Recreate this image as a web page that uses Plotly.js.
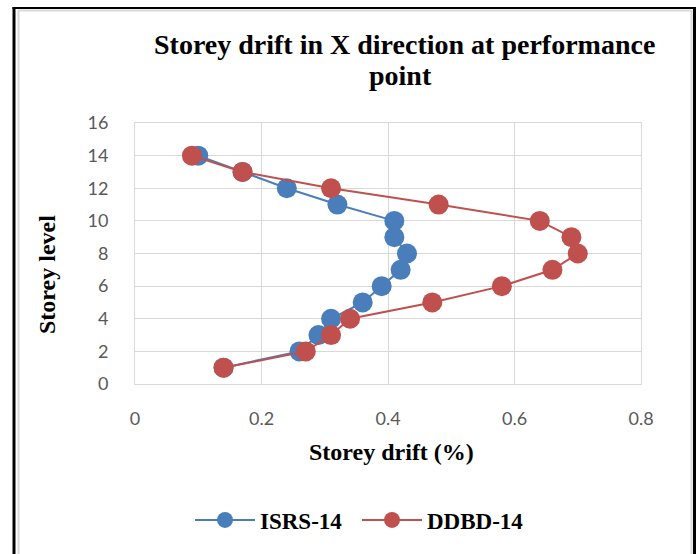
<!DOCTYPE html>
<html>
<head>
<meta charset="utf-8">
<script src="https://cdn.plot.ly/plotly-3.0.1.min.js"></script>
<style>html,body{margin:0;padding:0;background:#fff;}#chart{width:696px;height:554px;}</style>
</head>
<body>
<div id="chart"></div>
<script>
const storeyLevels = [14, 13, 12, 11, 10, 9, 8, 7, 6, 5, 4, 3, 2, 1];
const isrsDrift = [0.10, 0.17, 0.24, 0.32, 0.41, 0.41, 0.43, 0.42, 0.39, 0.36, 0.31, 0.29, 0.26, 0.14];
const ddbdDrift = [0.09, 0.17, 0.31, 0.48, 0.64, 0.69, 0.70, 0.66, 0.58, 0.47, 0.34, 0.31, 0.27, 0.14];
const seriesNames = ['ISRS-14', 'DDBD-14'];
const xTicks = [0, 0.2, 0.4, 0.6, 0.8];
const xTickText = ['0', '0.2', '0.4', '0.6', '0.8'];
const yTicks = [0, 2, 4, 6, 8, 10, 12, 14, 16];
const titleLines = ['Storey drift in X direction at performance', 'point'];
const xTitle = 'Storey drift (%)';
const yTitle = 'Storey level';

const blue = '#4A7EBB';
const red = '#C0504D';

const traces = [
  {x: isrsDrift, y: storeyLevels, name: seriesNames[0], type: 'scatter', mode: 'lines+markers',
   line: {color: blue, width: 2}, marker: {color: blue, size: 20, line: {width: 0}}},
  {x: ddbdDrift, y: storeyLevels, name: seriesNames[1], type: 'scatter', mode: 'lines+markers',
   line: {color: red, width: 2}, marker: {color: red, size: 20, line: {width: 0}}}
];

// pixel helpers for frame/text placement (plot area: x 135..641, y 123..384)
const L = 135, R = 641, T = 123, B = 384;
const px = v => (v - L) / (R - L);
const py = v => (B - v) / (B - T);
const serif = 'Liberation Serif, serif';

const layout = {
  width: 696, height: 554,
  margin: {l: L, r: 696 - R, t: T, b: 554 - B},
  paper_bgcolor: '#fff', plot_bgcolor: '#fff',
  showlegend: true,
  legend: {orientation: 'h', x: px(190), xanchor: 'left', y: py(520), yanchor: 'middle',
    font: {family: serif, size: 23, color: '#000', weight: 'bold'},
    itemwidth: 60, tracegroupgap: 0, entrywidth: 92, entrywidthmode: 'pixels'},
  xaxis: {range: [0, 0.8], tickvals: xTicks, ticktext: xTickText, showgrid: true, gridcolor: '#d9d9d9', gridwidth: 1,
    zeroline: false, showline: true, linecolor: '#d9d9d9', mirror: true, ticks: '',
    tickfont: {family: 'Lato, Noto Sans, sans-serif', size: 18, color: '#595959'},
    ticklabelstandoff: 18},
  yaxis: {range: [0, 16], tickvals: yTicks, showgrid: true, gridcolor: '#d9d9d9', gridwidth: 1,
    zeroline: false, showline: true, linecolor: '#d9d9d9', mirror: true, ticks: '',
    tickfont: {family: 'Lato, Noto Sans, sans-serif', size: 18, color: '#595959'},
    ticklabelstandoff: 22},
  annotations: [
    {text: '<b>' + titleLines[0] + '</b>', xref: 'paper', yref: 'paper', x: px(404), y: py(45),
     xanchor: 'center', yanchor: 'middle', showarrow: false, font: {family: serif, size: 28, color: '#000'}},
    {text: '<b>' + titleLines[1] + '</b>', xref: 'paper', yref: 'paper', x: px(400), y: py(75),
     xanchor: 'center', yanchor: 'middle', showarrow: false, font: {family: serif, size: 28, color: '#000'}},
    {text: '<b>' + xTitle + '</b>', xref: 'paper', yref: 'paper', x: px(391), y: py(452),
     xanchor: 'center', yanchor: 'middle', showarrow: false, font: {family: serif, size: 24, color: '#000'}},
    {text: '<b>' + yTitle + '</b>', xref: 'paper', yref: 'paper', x: px(47), y: py(275), textangle: -90,
     xanchor: 'center', yanchor: 'middle', showarrow: false, font: {family: serif, size: 24, color: '#000'}}
  ],
  shapes: [
    {type: 'rect', xref: 'paper', yref: 'paper', x0: px(18.5), x1: px(691.5), y0: py(570), y1: py(10.5),
     line: {color: '#d9d9d9', width: 2}, layer: 'below'},
    {type: 'line', xref: 'paper', yref: 'paper', x0: px(14), x1: px(14), y0: py(570), y1: py(7), line: {color: '#000', width: 3}},
    {type: 'line', xref: 'paper', yref: 'paper', x0: px(694.5), x1: px(694.5), y0: py(570), y1: py(7), line: {color: '#000', width: 3}},
    {type: 'line', xref: 'paper', yref: 'paper', x0: px(12.5), x1: px(696), y0: py(8), y1: py(8), line: {color: '#000', width: 2}}
  ]
};

Plotly.newPlot('chart', traces, layout, {displayModeBar: false, staticPlot: true});
</script>
</body>
</html>
